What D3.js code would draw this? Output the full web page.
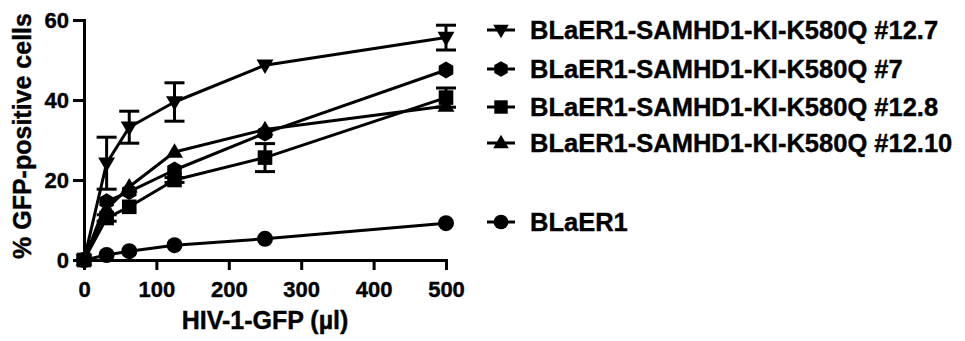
<!DOCTYPE html>
<html>
<head>
<meta charset="utf-8">
<script src="https://cdn.jsdelivr.net/npm/d3@7"></script>
<style>
  body { margin: 0; background: #fff; }
  text { font-family: "Liberation Sans", Arial, sans-serif; font-weight: bold; fill: #000; stroke: #000; stroke-width: 0.4px; }
</style>
</head>
<body>
<div id="chart-wrapper"></div>
<script>

//////////////////////////////////////////////////
/////////////////// Data /////////////////////////
//////////////////////////////////////////////////

const doses = [0, 31.25, 62.5, 125, 250, 500]

const seriesNames = [
  'BLaER1-SAMHD1-KI-K580Q #12.7',
  'BLaER1-SAMHD1-KI-K580Q #7',
  'BLaER1-SAMHD1-KI-K580Q #12.8',
  'BLaER1-SAMHD1-KI-K580Q #12.10',
  'BLaER1'
]
const seriesShapes = ['triangleDown', 'hexagon', 'square', 'triangleUp', 'circle']

const k580q_12_7 = [0, 24.2, 33.2, 39.5, 48.7, 55.6]
const k580q_7 = [0, 14.6, 17.1, 22.5, 31.7, 47.5]
const k580q_12_8 = [0, 10.5, 13.3, 20.0, 25.6, 40.6]
const k580q_12_10 = [0, 12.8, 18.3, 27.0, 32.6, 38.5]
const blaer1 = [0, 1.25, 2.2, 3.7, 5.3, 9.2]

// error bars too small to show outside the markers are left at 0
const err_12_7 = [0, 6.5, 4.0, 4.8, 0, 3.1]
const err_7 = [0, 0, 0, 0, 0, 0]
const err_12_8 = [0, 0.8, 0, 0.6, 3.5, 2.4]
const err_12_10 = [0, 0, 0, 0, 0, 0]
const err_blaer1 = [0, 0, 0, 0, 0, 0]

const seriesValues = [k580q_12_7, k580q_7, k580q_12_8, k580q_12_10, blaer1]
const seriesErrors = [err_12_7, err_7, err_12_8, err_12_10, err_blaer1]

const xTicks = [0, 100, 200, 300, 400, 500]
const yTicks = [0, 20, 40, 60]

//////////////////////////////////////////////////
/////////////////// Constants ////////////////////
//////////////////////////////////////////////////

const width = 965
const height = 341
const plot = {left: 84, right: 446, top: 20, bottom: 260}
const legendRows = [30, 69, 107, 143, 222]
const tickFont = 22
const titleFont = 25

// marker shapes, centred on 0,0
const markerPath = (shape, s) => {
  if (shape === 'circle') return d3.symbol(d3.symbolCircle, Math.PI * s * s)()
  if (shape === 'square') return `M${-s},${-s}H${s}V${s}H${-s}Z`
  if (shape === 'triangleUp') return `M0,${-s * 1.15}L${s * 1.1},${s * 0.75}L${-s * 1.1},${s * 0.75}Z`
  if (shape === 'triangleDown') return `M0,${s * 1.15}L${s * 1.1},${-s * 0.75}L${-s * 1.1},${-s * 0.75}Z`
  // hexagon
  const pts = d3.range(6).map(i => {
    const a = Math.PI / 6 + i * Math.PI / 3
    return [Math.cos(a) * s * 1.08, Math.sin(a) * s * 1.08]
  })
  return 'M' + pts.join('L') + 'Z'
}
const markerSize = {circle: 8, square: 7.3, triangleUp: 7.7, triangleDown: 7.7, hexagon: 7.8}

const svg = d3.select("#chart-wrapper")
  .append("svg")
    .attr("width", width)
    .attr("height", height)
const g = svg.append("g")

/// Scales ///
const xScale = d3.scaleLinear().domain([0, 500]).range([plot.left, plot.right])
const yScale = d3.scaleLinear().domain([0, 60]).range([plot.bottom, plot.top])

/// Axes ///
const xAxis = g => g
  .attr("transform", `translate(0, ${plot.bottom})`)
  .call(d3.axisBottom(xScale).tickValues(xTicks).tickSize(10).tickPadding(11).tickSizeOuter(0))
  .call(g => g.selectAll("line, path").attr("stroke", "#000").attr("stroke-width", 3))
  .call(g => g.selectAll("text").style("font-size", `${tickFont}px`))

const yAxis = g => g
  .attr("transform", `translate(${plot.left}, 0)`)
  .call(d3.axisLeft(yScale).tickValues(yTicks).tickSize(11).tickPadding(4).tickSizeOuter(0))
  .call(g => g.selectAll("line, path").attr("stroke", "#000").attr("stroke-width", 3))
  .call(g => g.selectAll("text").style("font-size", `${tickFont}px`))

g.append("g").call(xAxis)
g.append("g").call(yAxis)
g.selectAll(".domain").attr("stroke-linecap", "square")

// axis titles
g.append("text")
  .attr("x", (plot.left + plot.right) / 2)
  .attr("y", 329)
  .attr("text-anchor", "middle")
  .style("font-size", `${titleFont}px`)
  .text("HIV-1-GFP (µl)")

g.append("text")
  .attr("transform", `translate(31, 136) rotate(-90)`)
  .attr("text-anchor", "middle")
  .style("font-size", `${titleFont}px`)
  .text("% GFP-positive cells")

/// Series ///
const line = d3.line()
  .x((d, i) => xScale(doses[i]))
  .y(d => yScale(d))

const seriesG = g.append("g").attr("class", "series-g")

seriesValues.slice().reverse().forEach((values, ri) => {
  const si = seriesValues.length - 1 - ri
  const shape = seriesShapes[si]
  const errs = seriesErrors[si]
  const sg = seriesG.append("g")

  sg.append("path")
    .datum(values)
    .attr("fill", "none")
    .attr("stroke", "#000")
    .attr("stroke-width", 3)
    .attr("stroke-linejoin", "round")
    .attr("d", line)

  // error bars (only where there is a spread)
  const bars = sg.selectAll(".err")
    .data(values.map((v, i) => ({x: doses[i], y: v, e: errs[i]})).filter(d => d.e > 0))
    .join("g")
      .attr("class", "err")
      .attr("stroke", "#000")
      .attr("stroke-width", 3)
  bars.append("line")
    .attr("x1", d => xScale(d.x)).attr("x2", d => xScale(d.x))
    .attr("y1", d => yScale(d.y - d.e)).attr("y2", d => yScale(d.y + d.e))
  bars.selectAll(".cap")
    .data(d => [d.y - d.e, d.y + d.e].map(v => ({x: d.x, v})))
    .join("line")
      .attr("class", "cap")
      .attr("x1", d => xScale(d.x) - 10).attr("x2", d => xScale(d.x) + 10)
      .attr("y1", d => yScale(d.v)).attr("y2", d => yScale(d.v))

  sg.selectAll(".marker")
    .data(values)
    .join("path")
      .attr("class", "marker")
      .attr("d", markerPath(shape, markerSize[shape]))
      .attr("transform", (d, i) => `translate(${xScale(doses[i])}, ${yScale(d)})`)
      .attr("fill", "#000")
})

/// Legend ///
const legend = g.append("g").attr("class", "legend")
const legendItems = legend.selectAll(".legend-item")
  .data(seriesNames)
  .join("g")
    .attr("class", "legend-item")
    .attr("transform", (d, i) => `translate(501, ${legendRows[i]})`)

legendItems.append("line")
  .attr("x1", -14).attr("x2", 14)
  .attr("stroke", "#000").attr("stroke-width", 3)
legendItems.append("path")
  .attr("d", (d, i) => markerPath(seriesShapes[i], markerSize[seriesShapes[i]] * 0.92))
  .attr("fill", "#000")
legendItems.append("text")
  .attr("x", 29)
  .attr("y", 9)
  .style("font-size", "25.5px")
  .text(d => d)

</script>
</body>
</html>
